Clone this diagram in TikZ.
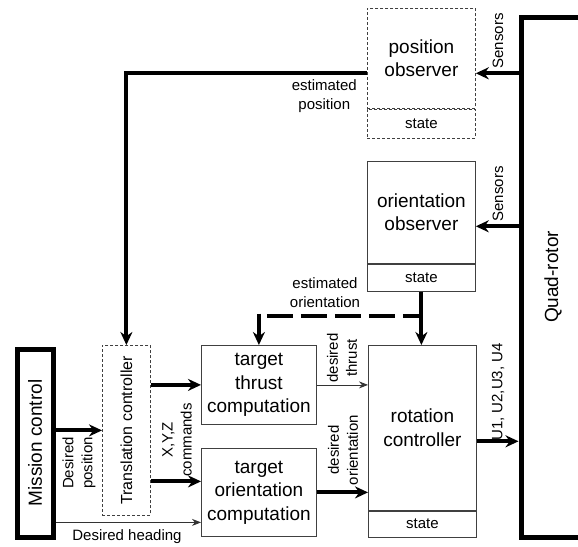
\documentclass[tikz,border=0pt]{standalone}
\usepackage{fontspec}
\setmainfont{Liberation Sans}
\usetikzlibrary{arrows.meta,calc}

\begin{document}
\begin{tikzpicture}[x=1pt,y=-1pt,line join=miter,>={Stealth[length=13pt,width=12pt]},
	box/.style={draw=black!75,line width=0.8pt,inner sep=0pt,align=center,anchor=north west,font=\fontsize{19}{23.5}\selectfont},
	statebox/.style={box,anchor=north,font=\fontsize{15}{18}\selectfont},
	dbox/.style={dash pattern=on 3pt off 2pt},
	heavy/.style={draw,line width=5pt,inner sep=0pt,anchor=north west},
	lbl/.style={inner sep=0pt,align=center,font=\fontsize{15}{19}\selectfont},
	bus/.style={->,line width=4pt},
	sig/.style={-{Stealth[length=9pt,width=7pt]},line width=0.8pt,draw=black!80}]
			\useasboundingbox (0,0) rectangle (578,546);
			% blocks
			\node[heavy,minimum width=64,minimum height=520] (qr) at (518.5,14.5) {};
			\node[rotate=90,font=\fontsize{19}{23}\selectfont] (qrlbl) at (qr.center) {Quad-rotor};
			\node[heavy,minimum width=36,minimum height=188] (mc) at (14.5,346.5) {};
			\node[rotate=90,font=\fontsize{19}{23}\selectfont] (mclbl) at (mc.center) {Mission control};
			\node[box,dbox,minimum width=108,minimum height=100] (posobs) at (367,8) {position\\observer};
			\node[statebox,dbox,minimum width=108,minimum height=29] (posst) at (posobs.south) {state};
			\node[box,minimum width=108,minimum height=102] (oriobs) at (367,161) {orientation\\observer};
			\node[statebox,minimum width=108,minimum height=27] (orist) at (oriobs.south) {state};
			\node[box,minimum width=108,minimum height=165] (rot) at (368,345) {rotation\\controller};
			\node[statebox,minimum width=108,minimum height=26] (rotst) at (rot.south) {state};
			\node[box,minimum width=115,minimum height=79] (thr) at (201,345) {target\\thrust\\computation};
			\node[box,minimum width=115,minimum height=88] (tor) at (201,448) {target\\orientation\\computation};
			\node[box,dbox,minimum width=48,minimum height=170] (trans) at (102,345) {};
			\node[rotate=90,font=\fontsize{16}{19}\selectfont] (translbl) at (trans.center) {Translation controller};
			% helper points
			\coordinate (posmid) at ($(posobs.north west)!0.5!(posst.south west)$);
			\coordinate (orimid) at ($(oriobs.north east)!0.5!(orist.south east)$);
			\coordinate (rotmid) at ($(rot.north east)!0.5!(rotst.south east)$);
			\coordinate (eo) at ($(orist.south)!0.45!(rot.north)$);
			\coordinate (xyz2) at ($(tor.west)+(0,-11)$);
			\coordinate (dh) at ($(tor.west)+(0,30)$);
			% connectors
			\draw[bus] (qr.west |- posmid) -- (posobs.east |- posmid);
			\draw[bus] (qr.west |- orimid) -- (orimid);
			\draw[bus] (posmid) -| (trans.north);
			\draw[bus] (orist.south) -- (orist.south |- rot.north);
			\draw[line width=4pt,dash pattern=on 26pt off 8pt] ($(eo -| thr.north)+(8,0)$) -- (eo);
			\draw[bus] ($(eo -| thr.north)+(0,-2)$) -- (thr.north);
			\draw[bus] (mc.east |- trans.west) -- (trans.west);
			\draw[bus] (trans.east |- thr.west) -- (thr.west);
			\draw[bus] (trans.east |- xyz2) -- (xyz2);
			\draw[sig] (mc.east |- dh) -- (dh);
			\draw[sig] (thr.east) -- (thr.east -| rot.west);
			\draw[bus] (tor.east) -- (tor.east -| rot.west);
			\draw[bus] (rotmid) -- (rotmid -| qr.west);
			% labels
			\node[lbl,rotate=90] (sens1) at (498,41) {Sensors};
			\node[lbl,rotate=90] (sens2) at (498,194) {Sensors};
			\node[lbl,anchor=east] (estpos) at (357,96) {estimated\\position};
			\node[lbl] (estori) at (325,293) {estimated\\orientation};
			\node[lbl,rotate=90] (desthr) at (342,358) {desired\\thrust};
			\node[lbl,rotate=90] (desori) at (343,450) {desired\\orientation};
			\node[lbl,rotate=90] (xyz) at (177,440) {X,Y,Z\\commands};
			\node[lbl,rotate=90] (despos) at (79,463) {Desired\\position};
			\node[lbl] (deshead) at (127,537) {Desired heading};
			\node[lbl,rotate=90] (ucmd) at (498,392) {U1, U2,U3, U4};
\end{tikzpicture}
\end{document}
